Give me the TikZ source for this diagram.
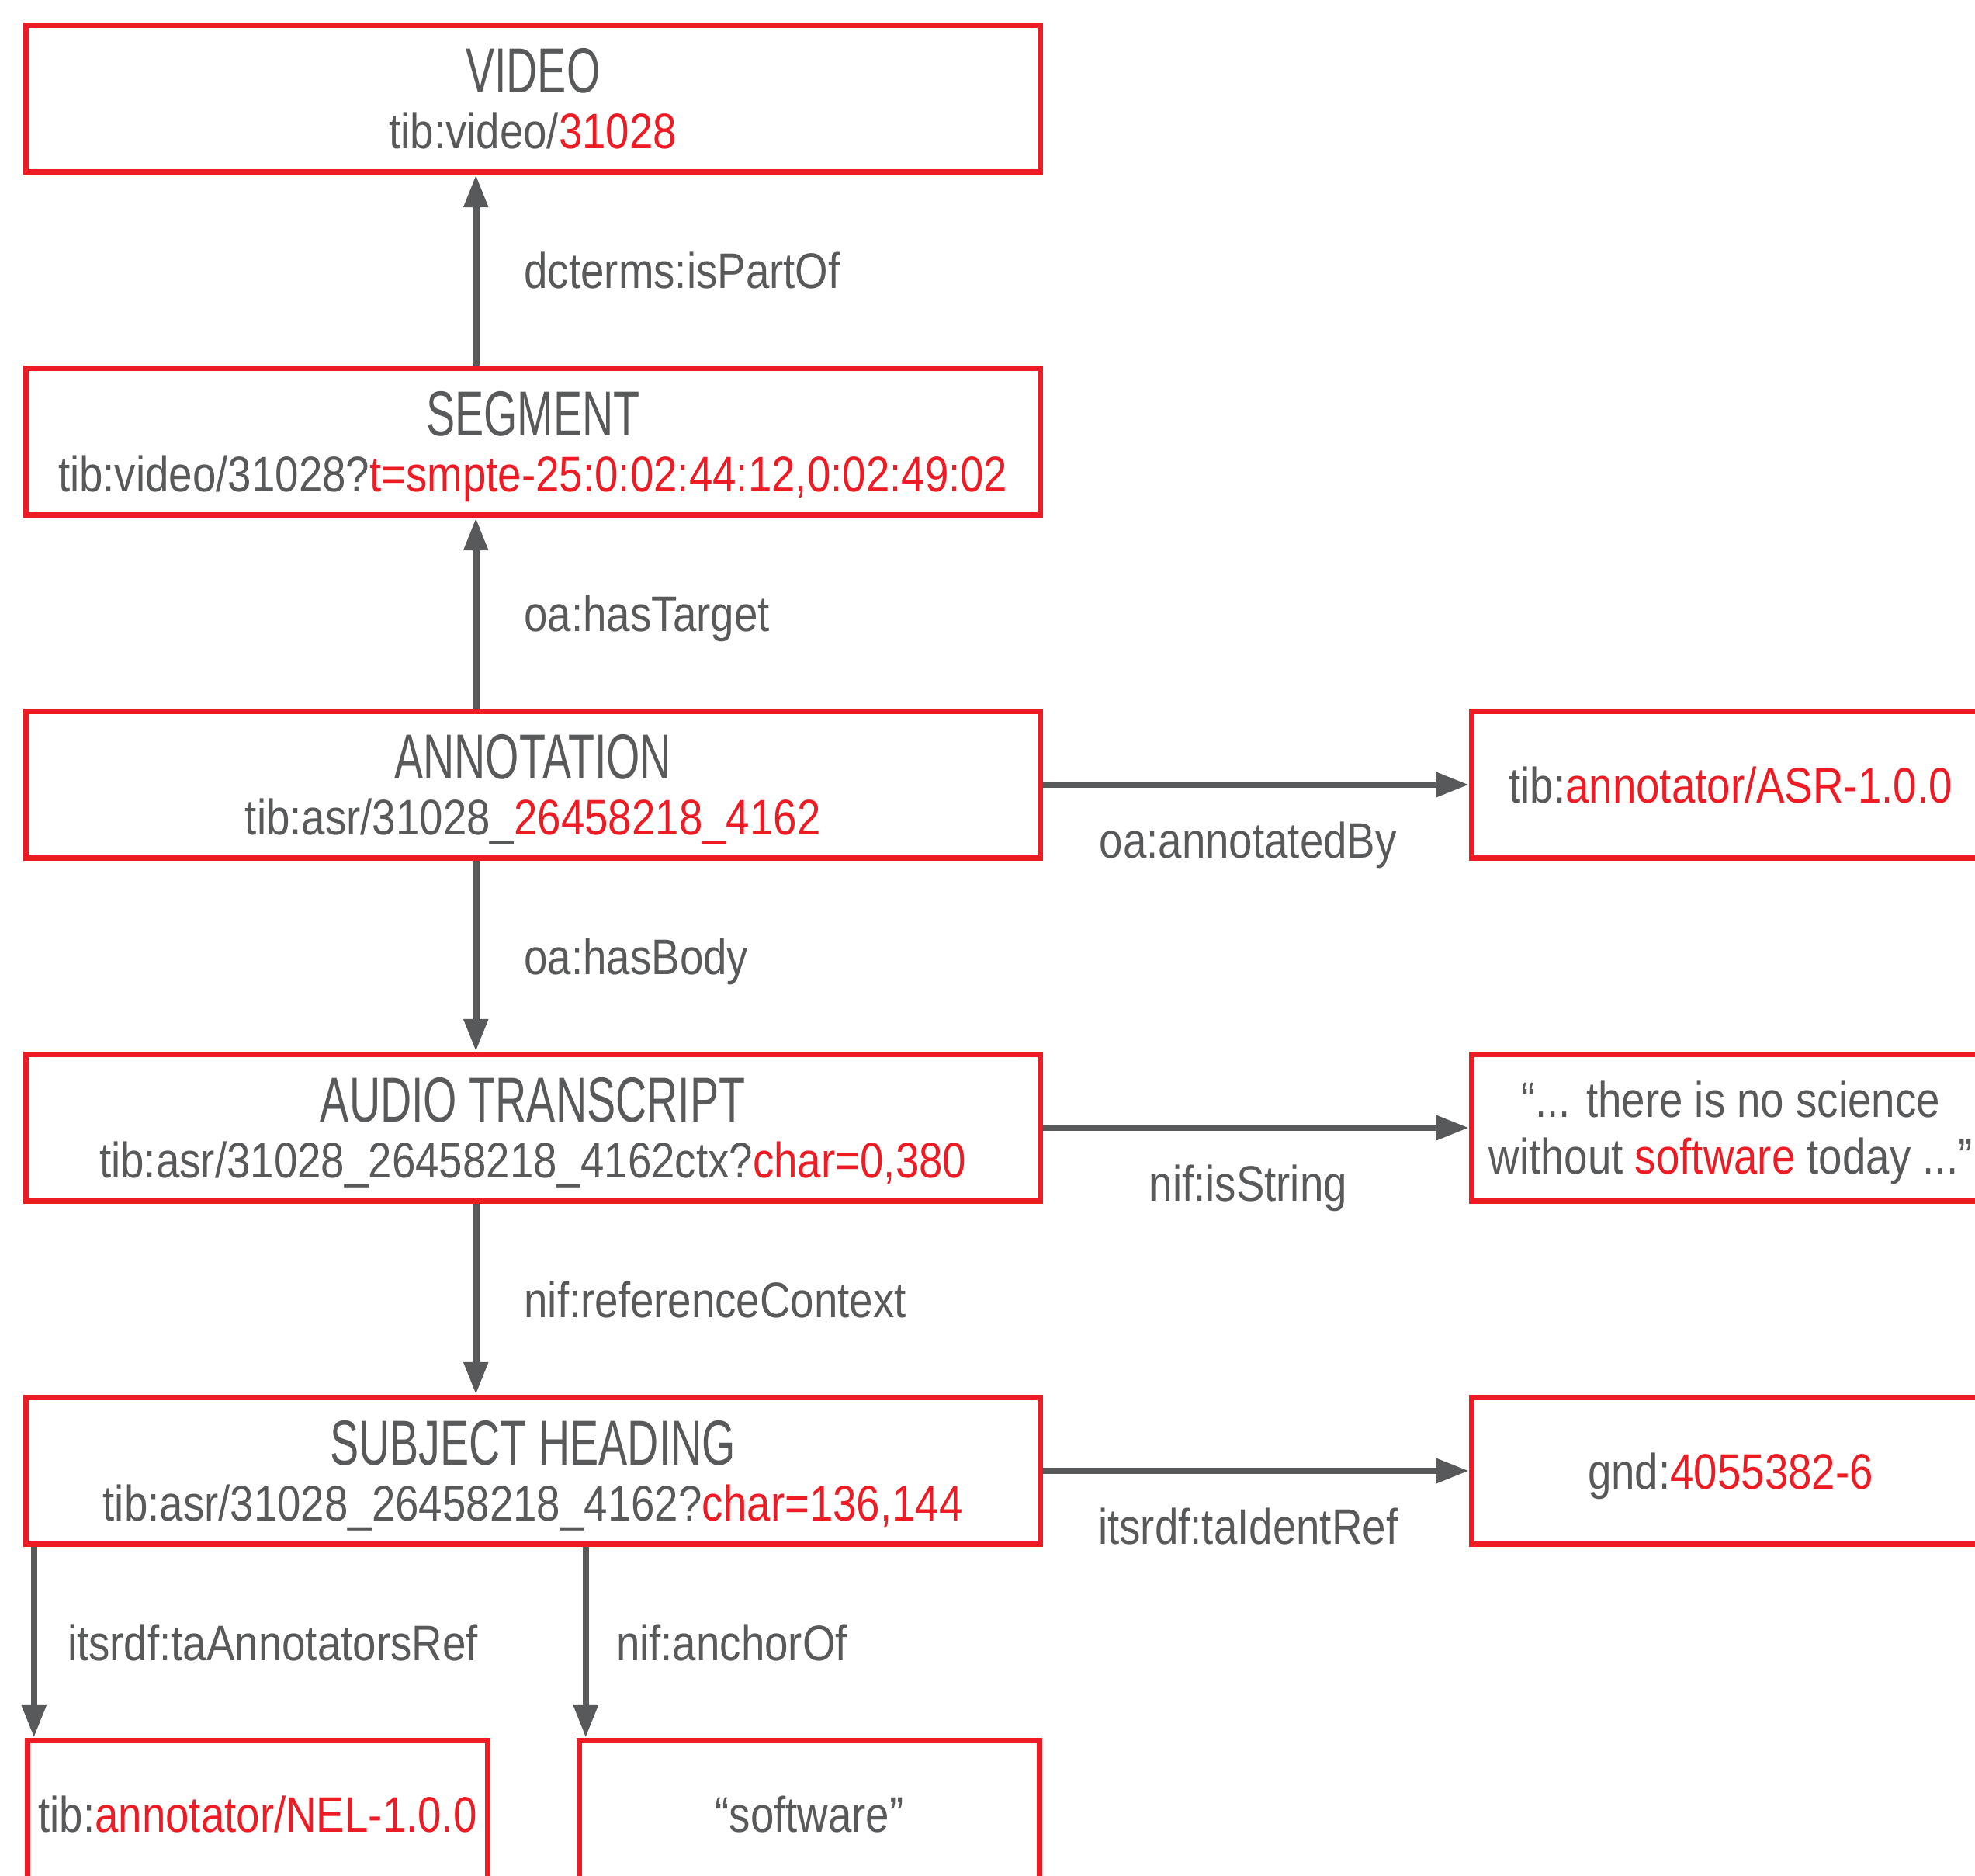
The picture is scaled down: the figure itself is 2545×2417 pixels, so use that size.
\documentclass[tikz,border=0pt]{standalone}
\usepackage{fontspec}
\setmainfont{Liberation Sans}[FakeStretch=0.85]
\newfontfamily\titlefont{Liberation Sans}[FakeStretch=0.68]
\usetikzlibrary{arrows.meta}

\definecolor{tibgray}{HTML}{58595B}
\definecolor{tibred}{HTML}{ED1C24}
\newcommand{\rd}[1]{\textcolor{tibred}{#1}}
\newcommand{\ttl}[1]{{\titlefont\fontsize{23.3}{24}\selectfont #1}}

\begin{document}
\begin{tikzpicture}[x=0.1mm,y=-0.1mm,
	every node/.style={text=tibgray,font=\fontsize{18.3}{20.7}\selectfont},
	resource/.style={draw=tibred,line width=0.7mm,align=center,minimum height=18.95mm,text depth=0pt},
	wide/.style={resource,minimum width=130.65mm},
	link/.style={draw=tibgray,line width=0.85mm,-{Triangle[length=4.2mm,width=3mm]}},
	prop/.style={inner sep=0pt,text height=12pt,text depth=3.5pt}]
\useasboundingbox (0,0) rectangle (2545,2417);
\clip (0,0) rectangle (2545,2417);

% main column
\node[wide] (video) at (686.75,127) {\ttl{VIDEO}\\tib:video/\rd{31028}};
\node[wide] (segment) at (686.75,569) {\ttl{SEGMENT}\\tib:video/31028?\rd{t=smpte-25:0:02:44:12,0:02:49:02}};
\node[wide] (annotation) at (686.75,1011) {\ttl{ANNOTATION}\\tib:asr/31028\_\rd{26458218\_4162}};
\node[wide] (transcript) at (686.75,1453) {\ttl{AUDIO TRANSCRIPT}\\tib:asr/31028\_26458218\_4162ctx?\rd{char=0,380}};
\node[wide] (subject) at (686.75,1895) {\ttl{SUBJECT HEADING}\\tib:asr/31028\_26458218\_4162?\rd{char=136,144}};

% right column (cut off by the page)
\node[resource,minimum width=66.7mm] (asr) at (2230,1011) {tib:\rd{annotator/ASR-1.0.0}};
\node[resource,minimum width=66.7mm] (quote) at (2230,1453) {“... there is no science\\without \rd{software} today ...”};
\node[resource,minimum width=66.7mm] (gnd) at (2230,1895) {gnd:\rd{4055382-6}};

% bottom row
\node[resource,minimum width=59.25mm] (nel) at (332,2337) {tib:\rd{annotator/NEL-1.0.0}};
\node[resource,minimum width=59.35mm] (literal) at (1043,2337) {“software”};

% vertical links
\draw[link] ([xshift=-7.35mm]segment.north) -- node[prop,right=5.8mm,yshift=-0.9mm] (ispartof) {dcterms:isPartOf} ([xshift=-7.35mm]video.south);
\draw[link] ([xshift=-7.35mm]annotation.north) -- node[prop,right=5.8mm,yshift=-0.9mm] (hastarget) {oa:hasTarget} ([xshift=-7.35mm]segment.south);
\draw[link] ([xshift=-7.35mm]annotation.south) -- node[prop,right=5.8mm,yshift=-0.9mm] (hasbody) {oa:hasBody} ([xshift=-7.35mm]transcript.north);
\draw[link] ([xshift=-7.35mm]transcript.south) -- node[prop,right=5.8mm,yshift=-0.9mm] (refcontext) {nif:referenceContext} ([xshift=-7.35mm]subject.north);
\draw[link] ([xshift=1.15mm]nel.north west |- subject.south) -- node[prop,right=3.9mm,yshift=-0.9mm] (annotatorsref) {itsrdf:taAnnotatorsRef} ([xshift=1.15mm]nel.north west);
\draw[link] ([xshift=1.2mm]literal.north west |- subject.south) -- node[prop,right=3.5mm,yshift=-0.9mm] (anchorof) {nif:anchorOf} ([xshift=1.2mm]literal.north west);

% horizontal links
\draw[link] (annotation.east) -- node[prop,yshift=-8mm,xshift=-1mm] (annotatedby) {oa:annotatedBy} (asr.west);
\draw[link] (transcript.east) -- node[prop,yshift=-8mm,xshift=-1mm] (isstring) {nif:isString} (quote.west);
\draw[link] (subject.east) -- node[prop,yshift=-8mm,xshift=-1mm] (identref) {itsrdf:taIdentRef} (gnd.west);
\end{tikzpicture}
\end{document}
